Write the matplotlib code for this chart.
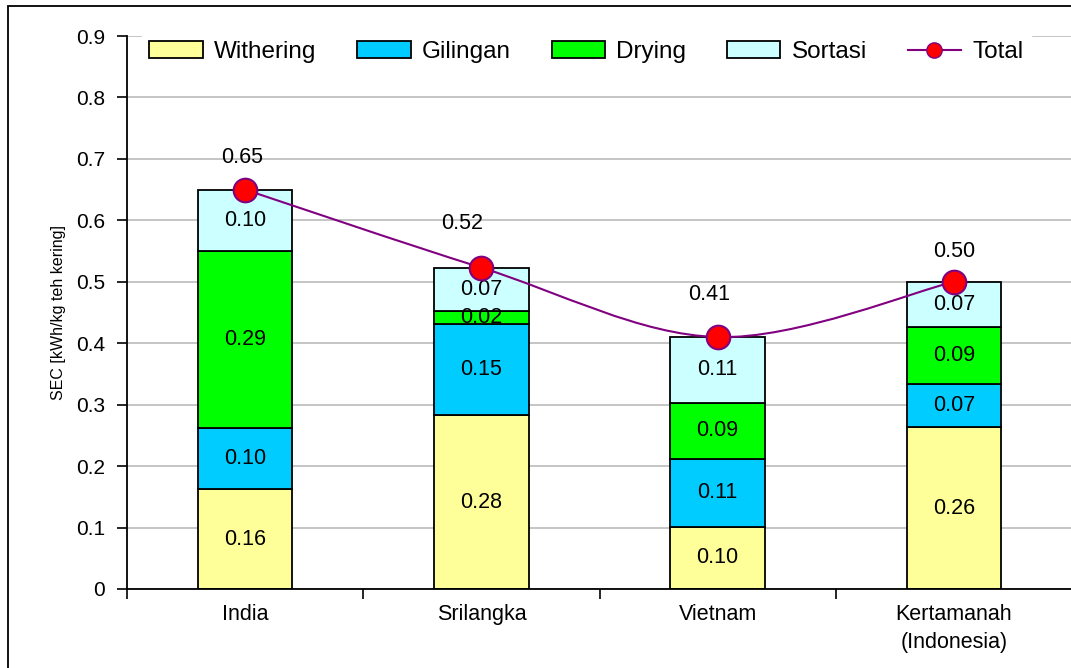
import matplotlib
matplotlib.use("Agg")
import matplotlib.pyplot as plt
import numpy as np
from matplotlib.path import Path
from matplotlib.patches import PathPatch, Rectangle, Patch
from matplotlib.lines import Line2D

plt.rcParams["font.family"] = ["Liberation Sans", "DejaVu Sans"]

# SEC per stage, kWh/kg teh kering
countries = ["India", "Srilangka", "Vietnam", "Kertamanah\n(Indonesia)"]
stages = ["Withering", "Gilingan", "Drying", "Sortasi"]
withering = [0.162, 0.283, 0.101, 0.263]
gilingan = [0.100, 0.149, 0.111, 0.070]
drying = [0.288, 0.021, 0.091, 0.094]
sortasi = [0.100, 0.070, 0.107, 0.073]

colors = ["#FFFF99", "#00CCFF", "#00FF00", "#CCFFFF"]
line_color = "#800080"

# offset of the Total labels from their marker, in points
total_label_offsets = [(-2, 23), (-14, 32), (-6, 31), (0, 22)]


def smooth_path(xs, ys):
    """Excel-like smoothed line: cubic bezier through every point."""
    pts = np.column_stack([xs, ys])
    n = len(pts)
    verts = [pts[0]]
    codes = [Path.MOVETO]
    for i in range(n - 1):
        p_prev = pts[max(i - 1, 0)]
        p_next = pts[min(i + 2, n - 1)]
        c1 = pts[i] + (pts[i + 1] - p_prev) / 6
        c2 = pts[i + 1] - (p_next - pts[i]) / 6
        verts += [c1, c2, pts[i + 1]]
        codes += [Path.CURVE4] * 3
    return Path(verts, codes)


W, H = 1071, 668
fig = plt.figure(figsize=(W / 100, H / 100), dpi=100)
ax = fig.add_axes([127 / W, 79 / H, 945 / W, 553 / H])

x = np.arange(len(countries))
series = np.array([withering, gilingan, drying, sortasi])
bottom = np.zeros(len(countries))
for name, vals, col in zip(stages, series, colors):
    ax.bar(x, vals, 0.4, bottom=bottom, color=col, edgecolor="black",
           linewidth=1.3, zorder=2)
    for xi, b, v in zip(x, bottom, vals):
        ax.text(xi, b + v / 2, f"{v:.2f}", ha="center", va="center",
                fontsize=15.5, zorder=3)
    bottom = bottom + vals

total = series.sum(axis=0)
ax.add_patch(PathPatch(smooth_path(x, total), fill=False, edgecolor=line_color,
                       linewidth=1.5, zorder=4))
ax.plot(x, total, linestyle="none", marker="o", markersize=17,
        markerfacecolor="red", markeredgecolor=line_color, markeredgewidth=1.5,
        zorder=5)
for xi, t, off in zip(x, total, total_label_offsets):
    ax.annotate(f"{t:.2f}", (xi, t), xytext=off, textcoords="offset points",
                ha="center", va="center", fontsize=15.5, zorder=6)

ax.set_xlim(-0.5, 3.5)
ax.set_ylim(0, 0.9)

ax.set_xticks([-0.5, 0.5, 1.5, 2.5, 3.5])
ax.set_xticklabels([])
ax.set_xticks(x, minor=True)
ax.set_xticklabels(countries, minor=True, fontsize=15.5, linespacing=1.45)
ax.tick_params(axis="x", which="major", direction="out", length=7, width=1.2)
ax.tick_params(axis="x", which="minor", length=0, pad=11)

yt = np.round(np.arange(0, 0.91, 0.1), 1)
ax.set_yticks(yt)
ax.set_yticklabels(["0" if v == 0 else f"{v:.1f}" for v in yt], fontsize=15)
ax.tick_params(axis="y", direction="out", length=7, width=1.2, pad=9)

ax.set_ylabel("SEC [kWh/kg teh kering]", fontsize=11.5)
ax.yaxis.set_label_coords(-0.065, 0.5)

ax.yaxis.grid(True, color="#C0C0C0", linewidth=1.3)
ax.set_axisbelow(True)
for s in ("top", "right"):
    ax.spines[s].set_visible(False)
for s in ("left", "bottom"):
    ax.spines[s].set_linewidth(1.3)

handles = [Patch(facecolor=c, edgecolor="black", linewidth=1.3) for c in colors]
handles.append(Line2D([], [], color=line_color, linewidth=1.5, marker="o",
                      markersize=11, markerfacecolor="red",
                      markeredgecolor=line_color))
leg = ax.legend(handles, stages + ["Total"], loc="center", ncol=5,
                bbox_to_anchor=(0.003, 0.971, 0.966, 0), mode="expand",
                fontsize=17.5, frameon=True, fancybox=False, framealpha=1,
                handlelength=2.2, handletextpad=0.45, borderpad=0.3)
leg.get_frame().set_edgecolor("white")
leg.set_zorder(7)

fig.add_artist(Rectangle((8 / W, -0.1), 1.2, 1.1 - 6 / H, transform=fig.transFigure,
                         fill=False, edgecolor="black", linewidth=1.3))

fig.savefig("out.png", dpi=100)
